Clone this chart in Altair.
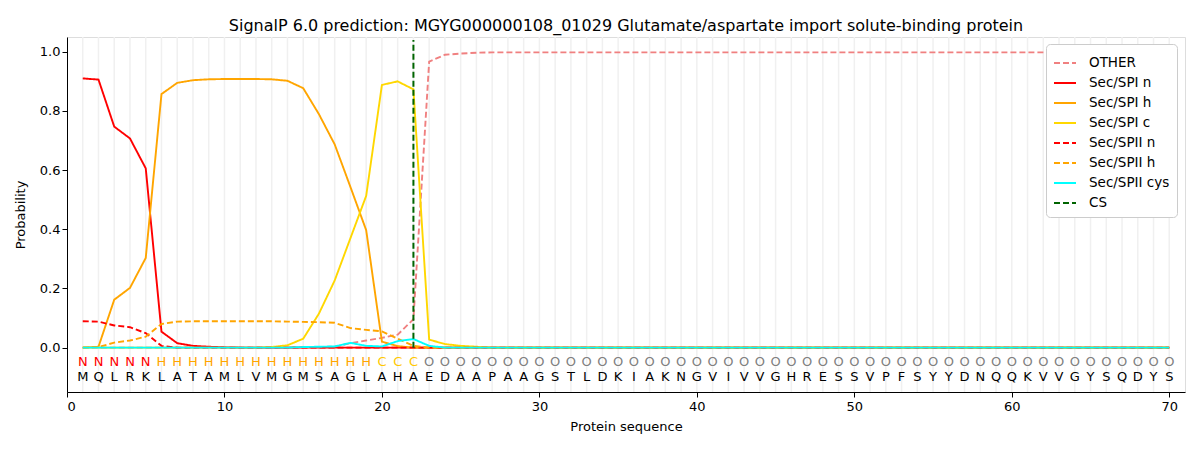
import altair as alt
import pandas as pd

sequence = list("MQLRKLATAMLVMGMSAGLAHAEDAAPAAGSTLDKIAKNGVIVVGHRESSVPFSYYDNQQKVVGYSQDYS")
labels = list("NNNNN" + "H" * 14 + "CCC" + "O" * 48)
positions = list(range(1, 71))

other = [0.0] * 14 + [0.002, 0.002, 0.003, 0.015, 0.024, 0.033, 0.044, 0.096, 0.967, 0.99, 0.994, 0.997] + [0.998] * 44
sp1_n = [0.91, 0.906, 0.747, 0.707, 0.606, 0.054, 0.015, 0.006, 0.003, 0.001] + [0.0] * 60
sp1_h = [0.0, 0.003, 0.162, 0.202, 0.303, 0.857, 0.895, 0.904, 0.907, 0.908, 0.908, 0.908, 0.907, 0.902,
         0.877, 0.789, 0.687, 0.543, 0.397, 0.02, 0.005, 0.0] + [0.0] * 48
sp1_c = [0.0] * 12 + [0.002, 0.008, 0.03, 0.115, 0.227, 0.37, 0.513, 0.888, 0.9, 0.873, 0.027, 0.012, 0.006, 0.003] + [0.0] * 44
sp2_n = [0.089, 0.088, 0.075, 0.069, 0.049, 0.006] + [0.0] * 64
sp2_h = [0.0, 0.002, 0.017, 0.024, 0.037, 0.08, 0.088, 0.089, 0.089, 0.089, 0.089, 0.089, 0.089, 0.088,
         0.087, 0.086, 0.084, 0.066, 0.06, 0.055, 0.03, 0.006] + [0.0] * 48
sp2_cys = [0.0] * 14 + [0.002, 0.003, 0.004, 0.016, 0.006, 0.004, 0.022, 0.029, 0.006] + [0.0] * 47
cs_pos = 22

series_names = ["OTHER", "Sec/SPI n", "Sec/SPI h", "Sec/SPI c", "Sec/SPII n", "Sec/SPII h", "Sec/SPII cys", "CS"]
series_colors = ["#f08080", "#ff0000", "#ffa500", "#ffd700", "#ff0000", "#ffa500", "#00ffff", "#006400"]
series_dash = [[6, 3], [1, 0], [1, 0], [1, 0], [6, 3], [6, 3], [1, 0], [6, 3]]
label_colors = {"N": "#ff0000", "H": "#ffa500", "C": "#ffc800", "O": "#808080"}

rows = []
for name, vals in zip(series_names[:7], [other, sp1_n, sp1_h, sp1_c, sp2_n, sp2_h, sp2_cys]):
    for p, v in zip(positions, vals):
        rows.append({"pos": p, "prob": v, "series": name})
lines_df = pd.DataFrame(rows)

cs_df = pd.DataFrame({"pos": [cs_pos], "y0": [0.0], "y1": [1.04], "series": ["CS"]})
seq_df = pd.DataFrame({"pos": positions, "aa": sequence, "lab": labels,
                       "lcol": [label_colors[l] for l in labels]})

FONT = "DejaVu Sans"
xscale = alt.Scale(domain=[0, 71], nice=False, zero=False)
yscale = alt.Scale(domain=[-0.15, 1.05], nice=False, zero=False)

color = alt.Color("series:N", scale=alt.Scale(domain=series_names, range=series_colors),
                  legend=alt.Legend(title=None, orient="none", legendX=979, legendY=7,
                                    symbolType="stroke",
                                    symbolStrokeWidth=2, symbolSize=484, labelFontSize=13.5,
                                    labelFont=FONT, strokeColor="#cccccc", fillColor="white",
                                    padding=7, cornerRadius=4, rowPadding=1,
                                    labelOffset=12, labelColor="black"))
dash = alt.StrokeDash("series:N", scale=alt.Scale(domain=series_names, range=series_dash), legend=None)

grid = alt.Chart(seq_df).mark_rule(color="#f0f0f0", strokeWidth=1.5).encode(
    x=alt.X("pos:Q", scale=xscale), y=alt.datum(-0.15), y2=alt.datum(1.05))

lines = alt.Chart(lines_df).mark_line(strokeWidth=1.9).encode(
    x=alt.X("pos:Q", scale=xscale, title="Protein sequence",
            axis=alt.Axis(values=[0, 10, 20, 30, 40, 50, 60, 70], grid=False, labelFontSize=13,
                          titleFontSize=13, labelFont=FONT, titleFont=FONT, tickColor="black",
                          domainColor="black", labelColor="black", titleColor="black",
                          titleFontWeight="normal", labelPadding=3, titlePadding=7)),
    y=alt.Y("prob:Q", scale=yscale, title="Probability",
            axis=alt.Axis(values=[0, 0.2, 0.4, 0.6, 0.8, 1.0], format=".1f", grid=False,
                          labelFontSize=13, titleFontSize=13, labelFont=FONT, titleFont=FONT,
                          tickColor="black", domainColor="black", labelColor="black",
                          titleColor="black", titleFontWeight="normal", titlePadding=12)),
    color=color, strokeDash=dash, detail="series:N", order="pos:Q")

cs = alt.Chart(cs_df).mark_rule(strokeWidth=2).encode(
    x=alt.X("pos:Q", scale=xscale), y=alt.Y("y0:Q", scale=yscale), y2="y1:Q",
    color=color, strokeDash=dash)

lab_text = alt.Chart(seq_df).mark_text(fontSize=13, font=FONT).encode(
    x=alt.X("pos:Q", scale=xscale), y=alt.datum(-0.047), text="lab:N",
    color=alt.Color("lcol:N", scale=None))
aa_text = alt.Chart(seq_df).mark_text(fontSize=13, font=FONT, color="black").encode(
    x=alt.X("pos:Q", scale=xscale), y=alt.datum(-0.10), text="aa:N")

chart = alt.layer(grid, lines, cs, lab_text, aa_text).properties(
    width=1118, height=355,
    title=alt.TitleParams("SignalP 6.0 prediction: MGYG000000108_01029 Glutamate/aspartate import solute-binding protein",
                          fontSize=16, font=FONT, fontWeight="normal", color="black", offset=2),
    autosize=alt.AutoSizeParams(type="none"),
    padding={"left": 59, "top": 29, "right": 6, "bottom": 45},
).configure_view(stroke="black", strokeWidth=1).configure(background="white")

chart.save("out.html", embed_options={"renderer": "svg", "actions": False})
